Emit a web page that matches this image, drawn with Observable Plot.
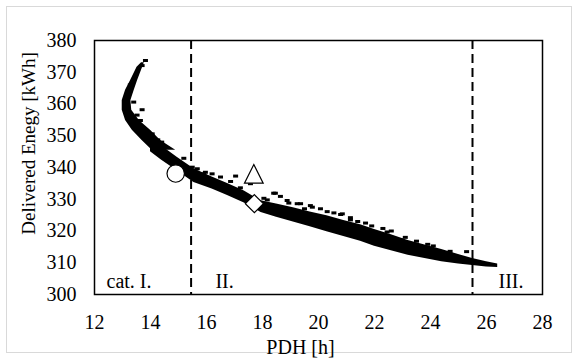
<!DOCTYPE html>
<html><head><meta charset="utf-8">
<script src="https://cdn.jsdelivr.net/npm/d3@7"></script>
<script src="https://cdn.jsdelivr.net/npm/@observablehq/plot@0.6"></script>
<style>
body{margin:0;background:#fff;}
#wrap{position:relative;width:577px;height:358px;}
#border{position:absolute;left:6px;top:6px;width:564px;height:345px;border:1px solid #d9d9d9;pointer-events:none;}
#wrap svg, #wrap svg text{font-family:"Liberation Serif","Times New Roman",serif !important;}
</style></head><body>
<div id="wrap"><div id="border"></div></div>
<script>
const xTicks = [12, 14, 16, 18, 20, 22, 24, 26, 28];
const yTicks = [300, 310, 320, 330, 340, 350, 360, 370, 380];
const xTitle = "PDH [h]";
const yTitle = "Delivered Enegy [kWh]";

const categoryBounds = [15.45, 25.5];
const categoryLabels = ["cat. I.", "II.", "III."];
const categoryLabelX = [12.43, 16.32, 26.43];
const categoryLabelY = [304, 304, 304];

// dense cloud, upper arc (read as x-range per energy level)
const arcY     = [373.0, 371.6, 367.4, 364.3, 361.1, 358.0, 354.8, 351.7, 348.5, 345.4];
const arcLeft  = [13.68, 13.52, 13.29, 13.11, 12.99, 12.99, 13.11, 13.35, 13.70, 14.06];
const arcRight = [13.78, 13.72, 13.54, 13.42, 13.30, 13.33, 13.60, 14.00, 14.36, 14.90];

// dense cloud, lower branch (energy range per PDH)
const bandX    = [14.0, 14.4, 14.95, 15.55, 16.2, 16.75, 17.35, 17.95, 18.5, 19.1, 19.7, 20.3, 20.9, 21.5, 22.0, 22.6, 23.2, 23.8, 24.4, 25.0, 25.5, 26.0, 26.4];
const bandLow  = [345.0, 342.3, 339.0, 335.3, 333.2, 331.2, 328.8, 325.8, 324.3, 322.8, 321.3, 319.8, 318.3, 316.8, 315.2, 313.8, 312.4, 311.3, 310.3, 309.6, 309.1, 308.7, 308.5];
const bandHigh = [351.5, 346.8, 343.2, 339.6, 337.0, 335.0, 332.6, 329.5, 328.5, 327.3, 326.0, 324.8, 323.3, 322.0, 320.5, 318.8, 317.0, 315.6, 314.2, 312.6, 311.3, 310.3, 309.6];

// scattered individual simulation points
const scatterX = [13.82, 13.70, 13.40, 13.70, 13.64, 14.06, 14.26, 14.62, 15.19, 15.49, 15.67, 15.96, 16.20, 16.50, 17.04, 17.57, 18.40, 18.64, 18.88, 19.24, 19.71, 18.46, 18.94, 19.36, 19.78, 20.07, 20.31, 20.79, 21.14, 20.85, 21.14, 21.68, 22.93, 25.29, 22.30, 22.60, 23.50, 23.90, 16.86, 17.21, 18.05, 18.17, 19.50, 20.55, 21.40, 21.90, 22.45, 23.10, 24.10, 24.70, 13.28, 13.18, 13.52, 14.40, 15.90];
const scatterY = [373.7, 372.1, 360.6, 358.2, 354.8, 350.6, 348.7, 343.2, 342.9, 340.1, 339.6, 338.5, 338.0, 337.0, 337.3, 334.9, 331.9, 330.9, 329.6, 328.6, 328.0, 331.9, 328.8, 328.6, 327.5, 327.0, 326.1, 325.2, 324.2, 325.4, 323.5, 322.5, 317.2, 313.5, 320.8, 320.0, 316.8, 315.8, 335.6, 333.6, 330.3, 329.8, 327.0, 325.7, 323.0, 321.6, 319.7, 318.0, 315.3, 313.6, 366.0, 363.0, 356.5, 348.0, 338.0];

// highlighted reference cases
const refX = [14.90, 17.69, 17.71];
const refY = [338.1, 338.0, 328.6];

const idx = a => a.map((_, i) => i);
const serif = "Liberation Serif, Times New Roman, serif";

const dash = {draw(ctx) { ctx.rect(-2.5, -1.5, 5, 3); }};
const tri = {draw(ctx, size) { const r = Math.sqrt(size / Math.PI); ctx.moveTo(0, -r); ctx.lineTo(r, r); ctx.lineTo(-r, r); ctx.closePath(); }};
const dia = {draw(ctx, size) { const r = Math.sqrt(size / Math.PI); ctx.moveTo(0, -r); ctx.lineTo(r, 0); ctx.lineTo(0, r); ctx.lineTo(-r, 0); ctx.closePath(); }};

const chart = Plot.plot({
  width: 577,
  height: 358,
  marginLeft: 94,
  marginRight: 35,
  marginTop: 40,
  marginBottom: 64,
  style: {fontSize: "20px", fontFamily: serif, color: "black", background: "transparent"},
  x: {domain: [12, 28], ticks: xTicks, tickSize: 0, tickPadding: 20, label: null, tickFormat: d => String(d)},
  y: {domain: [300, 380], ticks: yTicks, tickSize: 0, tickPadding: 18, label: null, tickFormat: d => String(d)},
  marks: [
    Plot.area(idx(arcY), {y1: i => arcY[i], x1: i => arcLeft[i], x2: i => arcRight[i], fill: "black"}),
    Plot.area(idx(bandX), {x1: i => bandX[i], y1: i => bandLow[i], y2: i => bandHigh[i], fill: "black"}),
    Plot.dot(idx(scatterX), {x: i => scatterX[i], y: i => scatterY[i], symbol: dash, r: 2, fill: "black", stroke: "none"}),
    Plot.ruleX(categoryBounds, {stroke: "black", strokeWidth: 2, strokeDasharray: "9,5"}),
    Plot.dot([0], {x: i => refX[i], y: i => refY[i], symbol: "circle", r: 8.7, fill: "white", stroke: "black", strokeWidth: 1.2}),
    Plot.dot([1], {x: i => refX[i], y: i => refY[i], symbol: tri, r: 9.35, fill: "white", stroke: "black", strokeWidth: 1.2}),
    Plot.dot([2], {x: i => refX[i], y: i => refY[i], symbol: dia, r: 9, fill: "white", stroke: "black", strokeWidth: 1.2}),
    Plot.text(idx(categoryLabels), {x: i => categoryLabelX[i], y: i => categoryLabelY[i], text: i => categoryLabels[i], textAnchor: "start", lineAnchor: "middle", fill: "black", fontSize: 20, fontFamily: serif}),
    Plot.text([xTitle], {frameAnchor: "bottom", text: d => d, textAnchor: "middle", lineAnchor: "middle", dx: -18, dy: 52.6, fill: "black", fontSize: 20, fontFamily: serif}),
    Plot.text([yTitle], {frameAnchor: "left", text: d => d, textAnchor: "middle", lineAnchor: "middle", rotate: -90, dx: -66, dy: -24, fill: "black", fontSize: 19, fontFamily: serif}),
    Plot.frame({stroke: "black", strokeWidth: 1.5})
  ]
});
d3.select(chart).selectAll("g").attr("font-family", null);
d3.select(chart).selectAll("text").attr("font-family", serif).attr("fill", "black");
document.getElementById("wrap").appendChild(chart);
chart.style.position = "absolute";
chart.style.left = "0";
chart.style.top = "0";
</script>
</body></html>
